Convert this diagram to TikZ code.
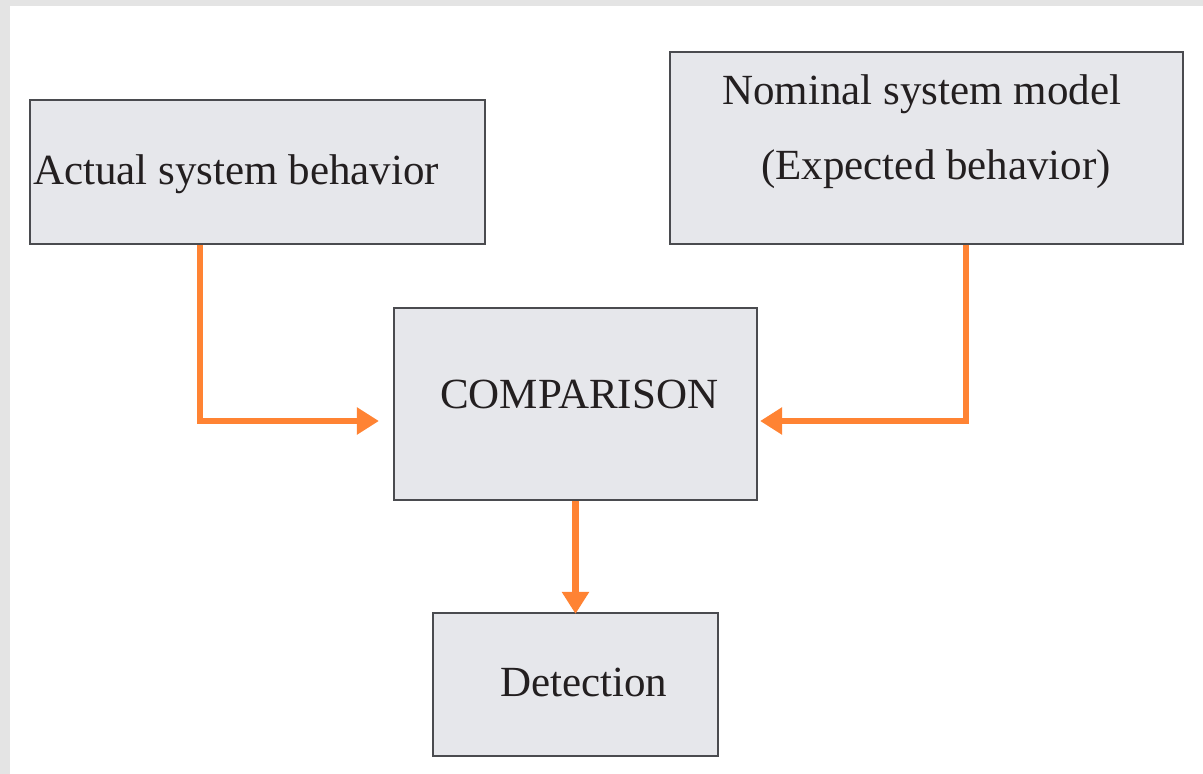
\documentclass[tikz,border=0pt]{standalone}
\usepackage{fontspec}
\setmainfont{Liberation Serif}
\usetikzlibrary{arrows.meta}
\definecolor{boxfill}{HTML}{E6E7EB}
\definecolor{boxline}{HTML}{4A4B4F}
\definecolor{arroworange}{HTML}{FF8333}
\definecolor{txt}{HTML}{231F20}
\definecolor{edge}{HTML}{E4E4E4}
\tikzset{
  blk/.style={draw=boxline, line width=2.2pt, fill=boxfill, inner sep=0pt},
  lbl/.style={anchor=base west, inner sep=0pt, text=txt, font=\fontsize{43}{51}\selectfont},
  flow/.style={draw=arroworange, line width=6.5pt, -{Triangle[length=22pt,width=26pt]}}
}
\begin{document}
\begin{tikzpicture}[x=1pt,y=-1pt]
\useasboundingbox (0,0) rectangle (1203,774);
\fill[white] (0,0) rectangle (1203,774);
\fill[edge] (0,0) rectangle (1203,6);
\fill[edge] (0,0) rectangle (10,774);
% boxes
\node[blk, minimum width=455pt, minimum height=144pt] (A) at (257.5,172) {};
\node[blk, minimum width=513pt, minimum height=192pt] (B) at (926.5,148) {};
\node[blk, minimum width=363pt, minimum height=192pt] (C) at (575.5,404) {};
\node[blk, minimum width=285pt, minimum height=143pt] (D) at (575.5,684.5) {};
% texts
\node[lbl] (tA) at (33,184) {Actual system behavior};
\node[lbl] (tB1) at (722,104) {Nominal system model};
\node[lbl] (tB2) at (761,179) {(Expected behavior)};
\node[lbl] (tC) at (440,408) {COMPARISON};
\node[lbl] (tD) at (500,696) {Detection};
% connectors
\coordinate (aL) at ([xshift=-14pt]C.west |- 0,421);
\coordinate (aR) at ([xshift=2pt]C.east |- 0,421);
\draw[flow] (A.south -| 200,0) |- (aL);
\draw[flow] (B.south -| 966,0) |- (aR);
\draw[flow] (C.south) -- ([yshift=-2pt]D.north);
\end{tikzpicture}
\end{document}
